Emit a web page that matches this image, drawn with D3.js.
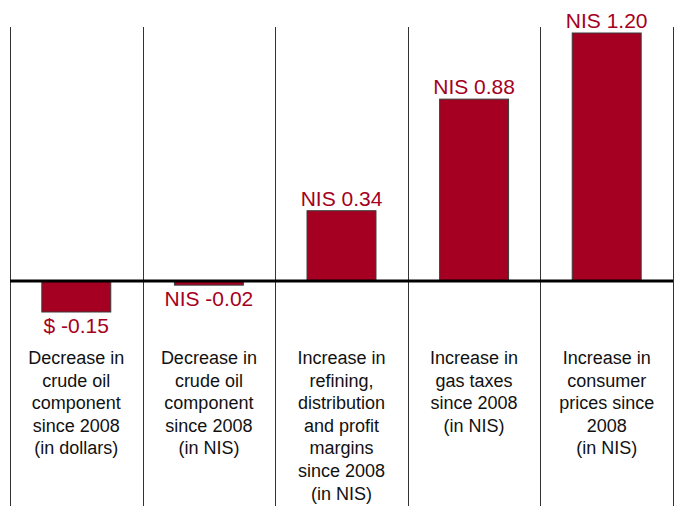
<!DOCTYPE html>
<html>
<head>
<meta charset="utf-8">
<script src="https://cdn.jsdelivr.net/npm/d3@7"></script>
<style>
  body { margin: 0; background: #fff; }
  svg { display: block; font-family: Arial, "Liberation Sans", sans-serif; }
</style>
</head>
<body>
<div id="chart"></div>
<script>
const categories = ["crudeUsd", "crudeNis", "margins", "taxes", "consumer"];
const values = [-0.15, -0.02, 0.34, 0.88, 1.20];
const valueLabels = ["$ -0.15", "NIS -0.02", "NIS 0.34", "NIS 0.88", "NIS 1.20"];
const categoryLabels = [
    ["Decrease in", "crude oil", "component", "since 2008", "(in dollars)"],
    ["Decrease in", "crude oil", "component", "since 2008", "(in NIS)"],
    ["Increase in", "refining,", "distribution", "and profit", "margins", "since 2008", "(in NIS)"],
    ["Increase in", "gas taxes", "since 2008", "(in NIS)"],
    ["Increase in", "consumer", "prices since", "2008", "(in NIS)"]
];

const width = 675, height = 506;
const red = "#a50021";

let svg = d3.select("#chart")
    .append("svg")
    .attr("width", width)
    .attr("height", height);

let x = d3.scaleBand()
    .domain(categories)
    .range([10, 673])
    .paddingInner(0.48)
    .paddingOuter(0.24);

let y = d3.scaleLinear()
    .domain([0, 1.2])
    .range([281, 33]);

const step = x.step();
const colStart = d => x(d) - step * x.paddingInner() / 2;

// column separators
const edges = categories.map(colStart).concat([colStart(categories[4]) + step]);
svg.selectAll("line.sep")
    .data(edges)
    .enter()
    .append("line")
    .attr("class", "sep")
    .attr("x1", d => Math.round(d) + 0.5)
    .attr("x2", d => Math.round(d) + 0.5)
    .attr("y1", 27)
    .attr("y2", height)
    .style("stroke", "#333")
    .style("stroke-width", 1);

const data = categories.map((c, i) => ({ cat: c, value: values[i], label: valueLabels[i], lines: categoryLabels[i] }));

// bars
svg.selectAll("rect.bar")
    .data(data)
    .enter()
    .append("rect")
    .attr("class", "bar")
    .attr("x", d => x(d.cat))
    .attr("width", x.bandwidth())
    .attr("y", d => Math.min(y(d.value), y(0)))
    .attr("height", d => Math.abs(y(d.value) - y(0)))
    .style("fill", red)
    .style("stroke", "#3a3a3a")
    .style("stroke-width", 1);

// baseline
svg.append("line")
    .attr("x1", 10)
    .attr("x2", 673)
    .attr("y1", y(0))
    .attr("y2", y(0))
    .style("stroke", "#000")
    .style("stroke-width", 3);

// value labels
svg.selectAll("text.val")
    .data(data)
    .enter()
    .append("text")
    .attr("class", "val")
    .attr("x", d => x(d.cat) + x.bandwidth() / 2)
    .attr("y", d => d.value >= 0 ? y(d.value) - 5 : Math.max(y(d.value), y(0) + 4) + 21)
    .attr("text-anchor", "middle")
    .style("font-size", "21px")
    .style("fill", red)
    .text(d => d.label);

// category labels
let cat = svg.selectAll("text.cat")
    .data(data)
    .enter()
    .append("text")
    .attr("class", "cat")
    .attr("text-anchor", "middle")
    .style("font-size", "18px")
    .style("fill", "#111");

cat.selectAll("tspan")
    .data(d => d.lines.map(l => ({ text: l, cx: x(d.cat) + x.bandwidth() / 2 })))
    .enter()
    .append("tspan")
    .attr("x", d => d.cx)
    .attr("y", (d, i) => 364 + i * 22.6)
    .text(d => d.text);
</script>
</body>
</html>
